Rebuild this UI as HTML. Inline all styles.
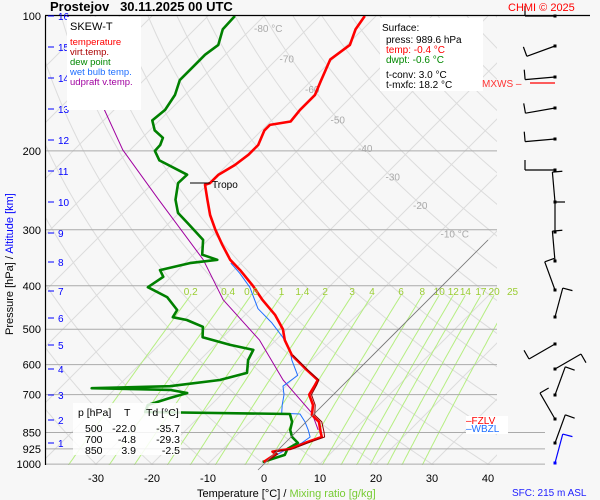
<!DOCTYPE html>
<html><head><meta charset="utf-8">
<style>
html,body{margin:0;padding:0;background:#f7f7f7;}
svg{display:block;font-family:"Liberation Sans",sans-serif;}
</style></head>
<body>
<svg id="chart" width="600" height="500" viewBox="0 0 600 500" xmlns="http://www.w3.org/2000/svg">
<defs><clipPath id="plotclip"><rect x="45" y="16" width="452" height="449"/></clipPath></defs>
<rect x="0" y="0" width="600" height="500" fill="#f7f7f7"/>
<g id="grid" clip-path="url(#plotclip)"></g>
<g id="hlines"></g>
<g id="series" clip-path="url(#plotclip)"></g>
<g id="labels"></g>
<g id="barbs"></g>
</svg>
<script>
// ---- data ----
const tempP = [989.6,950,938,925,897,870,850,805,777,738,700,666,649,617,571,529,500,465,430,400,369,350,324,300,278,257,238,236,226,215,204,194,180,175,172,162,150,140,125,116,107,100];
const tempT = [-0.4,0.3,-0.7,2.0,3.6,5.5,4.5,2.3,-0.2,-1.8,-4.3,-5.0,-5.4,-9.1,-14.5,-18.4,-20.7,-24.6,-29.6,-33.8,-38.9,-42.5,-46.6,-50.5,-54.1,-57.3,-60.4,-59.8,-59.8,-58.6,-58,-58,-59.5,-59.5,-56.4,-56.8,-56.8,-58.2,-60.4,-59.5,-61.3,-62];
const virtP = [989.6,950,938,925,897,870,850,805,777,738,700,666,649,617,571];
const virtT = [0.0,0.7,-0.3,2.4,4.1,6.0,5.1,2.8,0.3,-1.4,-3.9,-4.7,-5.2,-8.9,-14.3];
const dewP = [989.6,954,925,897,870,839,805,773,765,738,712,694,683,677,670,649,626,586,556,542,521,494,477,470,453,424,403,382,369,356,350,341,316,290,275,257,236,226,210,200,194,187,180,171,162,150,139,129,122,116,107,100];
const dewT = [-0.6,2.1,1.5,2.3,0.2,-1.4,-2.5,-4.3,-30.5,-31.3,-28.6,-26.4,-30,-44.3,-30.7,-22.9,-19.3,-21.4,-22.3,-27.3,-33.6,-35.4,-39.5,-42.5,-43,-47.1,-52.3,-51.4,-53.2,-49.1,-44.8,-48.4,-50.9,-56.6,-60.2,-63,-65.5,-65.4,-72.9,-75.4,-75.5,-76.3,-79.1,-81.3,-80.9,-81.8,-83.6,-83.6,-83.6,-83,-85,-85.2];
const wetP = [989.6,925,897,870,839,805,773,770,738,700,670,634,586,556,521,484,450,403,375,356];
const wetT = [-0.5,1.5,3.0,3.4,1.8,-0.2,-2.5,-5.9,-7.3,-8.8,-10.5,-9.8,-13.6,-15.7,-19.3,-23.8,-28.8,-34.1,-38.4,-41.8];
const parcelP = [839,770,649,529,430,350,257,199,154,100];
const parcelT = [3.6,-0.5,-11.6,-22.9,-36.6,-47.3,-66,-81.3,-94.3,-115];
const pressureTicks = [100,200,300,400,500,600,700,850,925,1000];
const tempTicks = [-30,-20,-10,0,10,20,30,40];
const altKm = [1,2,3,4,5,6,7,8,9,10,11,12,13,14,15,16];
const altY = [443,420,395,369,345,318,291,262,233,202,171,140,109,78,47,16];
const mixRatios = [0.2,0.4,0.6,1,1.4,2,3,4,6,8,10,12,14,17,20,25];
const isoLabels = [-80,-70,-60,-50,-40,-30,-20,-10];
const windY = [16,46,77,108,139,170,202,232,261,290,317,344,369,395,419,443,463];
const windDir = [90,110,95,100,95,90,5,0,5,20,345,120,300,340,30,340,345];

// ---- axes ----
const NS="http://www.w3.org/2000/svg";
const Y0=16, K=194.6, X0=264, SX=5.6, YB=464;
function yP(p){return Y0+K*Math.log(p/100);}
function xT(t,y){return X0+SX*t+(YB-y);}
function mk(tag,attrs,parent){const e=document.createElementNS(NS,tag);for(const k in attrs)e.setAttribute(k,attrs[k]);parent.appendChild(e);return e;}
const grid=document.getElementById('grid'), hl=document.getElementById('hlines'), ser=document.getElementById('series'), lab=document.getElementById('labels'), bar=document.getElementById('barbs');

for(let t=-160;t<=60;t+=10){
  const l=mk('line',{x1:xT(t,465),y1:465,x2:xT(t,16),y2:16,stroke:'#dcdcdc','stroke-width':1},grid);
  
  
}
for(let th=-40;th<=220;th+=10){
  let d='';
  for(let p=1050;p>=100;p-=10){const T=(th+273.15)*Math.pow(p/1000,0.286)-273.15;const y=yP(p);d+=(d?'L':'M')+xT(T,y).toFixed(1)+','+y.toFixed(1);}
  const a=mk('path',{d:d,fill:'none',stroke:'#dcdcdc','stroke-width':1},grid);
  
  
}
function tdFromW(w,p){const e=w*p/(622+w);const l=Math.log(e/6.112);return 243.5*l/(17.67-l);}
mixRatios.forEach(w=>{
  let d='';
  for(let p=1050;p>=420;p-=10){const y=yP(p);d+=(d?'L':'M')+xT(tdFromW(w,p),y).toFixed(1)+','+y.toFixed(1);}
  const m=mk('path',{d:d,fill:'none',stroke:'#b6ee82','stroke-width':1},grid);
  
  
  const tx=mk('text',{x:xT(tdFromW(w,420),yP(420)),y:295,'font-size':10,fill:'#9acd32','text-anchor':'middle'},lab);
  tx.textContent=w;
  
  
});
{const z=mk('line',{x1:xT(0,470),y1:470,x2:xT(0,240),y2:240,stroke:'#777','stroke-width':0.8},lab);

}
isoLabels.forEach((t,i)=>{
  const y=28+i*30.5-(i>3?(i-3)*2:0);
  const tx=mk('text',{x:xT(t,y)+2,y:y+4,'font-size':10,fill:'#aaa'},grid);
  tx.textContent=(i===0||i===7)?t+' °C':String(t);
  
  
});
pressureTicks.forEach(p=>{
  const y=yP(p);
  const xe=(p>=850)?545:497;
  if(p>100){const l=mk('line',{x1:45,y1:y,x2:xe,y2:y,stroke:'#aaa','stroke-width':1},hl);
  
  }
  const t=mk('text',{x:41,y:y+4,'font-size':11,fill:'#000','text-anchor':'end'},hl);
  t.textContent=p;
  
  
});
mk('line',{x1:45,y1:15.5,x2:590,y2:15.5,stroke:'#000','stroke-width':1.2},hl);
mk('line',{x1:45.5,y1:16,x2:45.5,y2:465,stroke:'#000','stroke-width':1.2},hl);
tempTicks.forEach(t=>{
  const tx=mk('text',{x:X0+SX*t,y:482,'font-size':11,fill:'#000','text-anchor':'middle'},lab);
  tx.textContent=t;
  
  
});
altKm.forEach((k,i)=>{
  const y=altY[i];
  mk('line',{x1:48,y1:y,x2:54,y2:y,stroke:'#00f','stroke-width':1},lab);
  const tx=mk('text',{x:58,y:y+4,'font-size':10,fill:'#00f'},lab);
  tx.textContent=k;
  
  
});

function line(P,T,color,w,name){
  let d='';P.forEach((p,i)=>{const y=yP(p);d+=(i?'L':'M')+xT(T[i],y).toFixed(1)+','+y.toFixed(1);});
  const e=mk('path',{d:d,fill:'none',stroke:color,'stroke-width':w,'stroke-linejoin':'round'},ser);
  
  
}
line(parcelP,parcelT,'#a000a0',1,'updraft-virtual-temperature-line');
line(wetP,wetT,'#1e6fff',1,'wet-bulb-line');
line(dewP,dewT,'#008000',2.6,'dewpoint-line');
line(tempP,tempT,'#ff0000',2.6,'temperature-line');
line(virtP,virtT,'#8b0000',1,'virtual-temperature-line');

windY.forEach((y,i)=>{
  const a=windDir[i]*Math.PI/180, L=30;
  const x1=555,x2=x1-L*Math.sin(a),y2=y-L*Math.cos(a);
  const c=(i===windY.length-1)?'#00f':'#000';
  const s=mk('line',{x1:x1,y1:y,x2:x2,y2:y2,stroke:c,'stroke-width':1.2},bar);
  
  
  mk('line',{x1:x2,y1:y2,x2:x2+10*Math.cos(a),y2:y2-10*Math.sin(a),stroke:c,'stroke-width':1.2},bar);
  mk('rect',{x:x1-1.5,y:y-1.5,width:3,height:3,fill:c},bar);
});
</script>
<svg style="position:absolute;left:0;top:0" width="600" height="500">
<g font-family="Liberation Sans, sans-serif">
<text x="50" y="11" font-size="13" font-weight="bold">Prostejov&#160;&#160;&#160;30.11.2025 00 UTC</text>
<text x="508" y="11" font-size="11" fill="#f00">CHMI © 2025</text>
<rect x="67" y="17" width="74" height="93" fill="#fff"/>
<text x="70" y="30" font-size="11">SKEW-T</text>
<text x="70" y="45" font-size="9.5" fill="#f00">temperature</text>
<text x="70" y="55" font-size="9.5" fill="#a00">virt.temp.</text>
<text x="70" y="65" font-size="9.5" fill="#080">dew point</text>
<text x="70" y="75" font-size="9.5" fill="#1e6fff">wet bulb temp.</text>
<text x="70" y="85" font-size="9.5" fill="#a000a0">udpraft v.temp.</text>
<rect x="380" y="18" width="103" height="73" fill="#fff"/>
<text x="382" y="31" font-size="10">Surface:</text>
<text x="386" y="43" font-size="10">press: 989.6 hPa</text>
<text x="386" y="53" font-size="10" fill="#f00">temp: -0.4 °C</text>
<text x="386" y="63" font-size="10" fill="#080">dwpt: -0.6 °C</text>
<text x="386" y="78" font-size="10">t-conv: 3.0 °C</text>
<text x="386" y="88" font-size="10">t-mxfc: 18.2 °C</text>
<text x="482" y="87" font-size="10" fill="#f33">MXWS –</text>
<line x1="530" y1="83" x2="555" y2="83" stroke="#f00" stroke-width="1.2"/>
<line x1="190" y1="183" x2="210" y2="183" stroke="#000" stroke-width="1"/>
<text x="212" y="188" font-size="10">Tropo</text>
<rect x="73" y="403" width="108" height="52" fill="#fff" opacity="0.85"/>
<text x="78" y="416" font-size="10.5">p [hPa]</text>
<text x="124" y="416" font-size="10.5">T</text>
<text x="146" y="416" font-size="10.5">Td [°C]</text>
<text x="85" y="432" font-size="10.5">500</text><text x="136" y="432" font-size="10.5" text-anchor="end">-22.0</text><text x="180" y="432" font-size="10.5" text-anchor="end">-35.7</text>
<text x="85" y="443" font-size="10.5">700</text><text x="136" y="443" font-size="10.5" text-anchor="end">-4.8</text><text x="180" y="443" font-size="10.5" text-anchor="end">-29.3</text>
<text x="85" y="454" font-size="10.5">850</text><text x="136" y="454" font-size="10.5" text-anchor="end">3.9</text><text x="180" y="454" font-size="10.5" text-anchor="end">-2.5</text>
<rect x="466" y="416" width="42" height="18" fill="#fff"/>
<text x="466" y="424" font-size="10" fill="#f00">–FZLV</text>
<text x="466" y="432" font-size="10" fill="#1e6fff">–WBZL</text>
<text x="197" y="497" font-size="11">Temperature [°C]  /  <tspan fill="#7c3">Mixing ratio [g/kg]</tspan></text>
<text x="512" y="496" font-size="10" fill="#22f">SFC: 215 m ASL</text>
<text transform="translate(13,335) rotate(-90)" font-size="11">Pressure [hPa]  /  <tspan fill="#00f">Altitude [km]</tspan></text>
</g></svg>
</body></html>
